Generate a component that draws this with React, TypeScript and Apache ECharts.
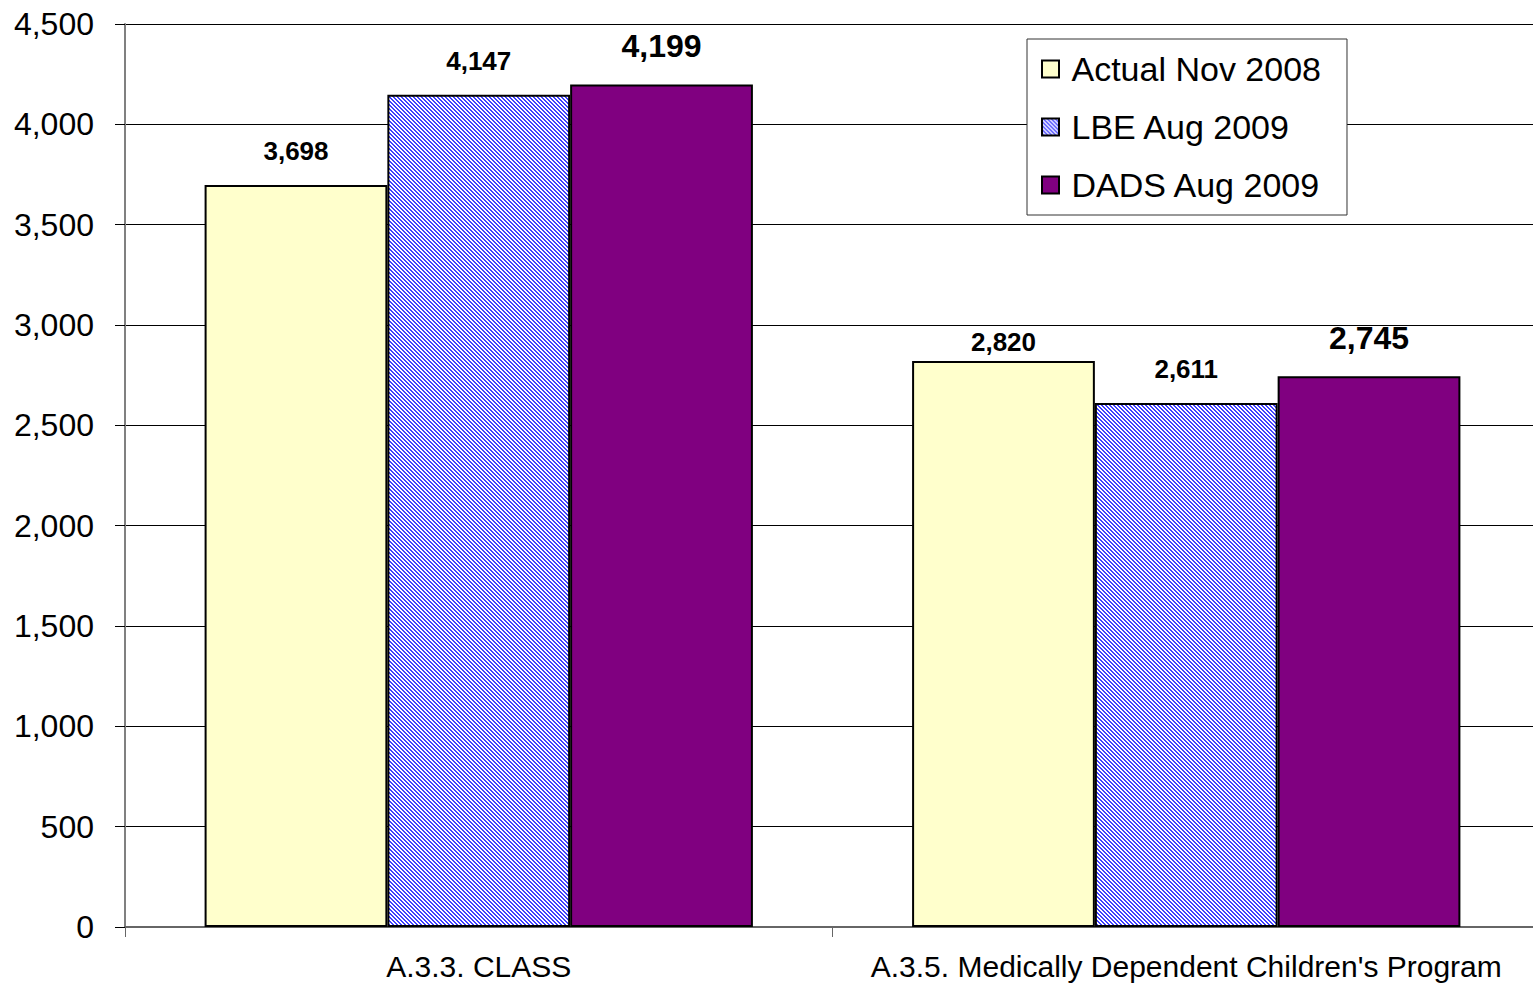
import React, { useEffect, useRef } from "react";
import * as echarts from "echarts";

const categories = ["A.3.3. CLASS", "A.3.5. Medically Dependent Children's Program"];
const seriesNames = ["Actual Nov 2008", "LBE Aug 2009", "DADS Aug 2009"];
const actualNov2008 = [3698, 2820];
const lbeAug2009 = [4147, 2611];
const dadsAug2009 = [4199, 2745];

function makeHatch(): HTMLCanvasElement {
  const c = document.createElement("canvas");
  c.width = 4;
  c.height = 4;
  const ctx = c.getContext("2d")!;
  ctx.fillStyle = "#ffffff";
  ctx.fillRect(0, 0, 4, 4);
  ctx.fillStyle = "#4040ff";
  for (let y = 0; y < 4; y++) {
    for (let x = 0; x < 4; x++) {
      const d = ((x - y) % 4 + 4) % 4;
      if (d === 0 || d === 1) ctx.fillRect(x, y, 1, 1);
    }
  }
  return c;
}

export default function App() {
  const ref = useRef<HTMLDivElement>(null);
  useEffect(() => {
    if (!ref.current) return;
    const chart = echarts.init(ref.current, undefined, { renderer: "svg" });
    const hatch = { image: makeHatch(), repeat: "repeat" } as any;
    const font = "'Liberation Sans', Arial, sans-serif";
    const fmt = (p: any) => Number(p.value).toLocaleString("en-US");
    const smallLabel = {
      show: true,
      position: "top",
      distance: 21,
      fontFamily: font,
      fontWeight: "bold",
      fontSize: 26,
      color: "#000",
      formatter: fmt,
    };
    const bigLabel = { ...smallLabel, fontSize: 32, distance: 22 };
    const square = "path://M0,0H10V10H0Z";
    chart.setOption({
      animation: false,
      backgroundColor: "#fff",
      grid: { left: 125, top: 24, width: 1415, bottom: 60, outerBoundsMode: "none" } as any,
      legend: {
        orient: "vertical",
        left: 1027,
        top: 39,
        padding: [12, 26, 12, 14],
        itemGap: 22,
        itemWidth: 32,
        itemHeight: 17,
        backgroundColor: "#fff",
        borderColor: "#333",
        borderWidth: 1,
        icon: square,
        textStyle: { fontFamily: font, fontSize: 34, color: "#000", lineHeight: 36 },
        data: seriesNames,
      },
      xAxis: {
        type: "category",
        data: categories,
        axisLine: { lineStyle: { color: "#666", width: 2 } },
        axisTick: { show: true, interval: 0, length: 10, lineStyle: { color: "#666" } },
        axisLabel: { interval: 0, fontFamily: font, fontSize: 30, color: "#000", margin: 24 },
      },
      yAxis: {
        type: "value",
        min: 0,
        max: 4500,
        interval: 500,
        axisLine: { show: true, lineStyle: { color: "#808080", width: 2 } },
        axisTick: { show: true, length: 10, lineStyle: { color: "#000" } },
        axisLabel: {
          fontFamily: font,
          fontSize: 32,
          color: "#000",
          margin: 31,
          formatter: (v: number) => v.toLocaleString("en-US"),
        },
        splitLine: { lineStyle: { color: "#000", width: 1 } },
      },
      series: [
        {
          name: seriesNames[0],
          type: "bar",
          data: actualNov2008.map((v, i) => (i === 1 ? { value: v, label: { distance: 6 } } : v)),
          barGap: "0%",
          barCategoryGap: "22.5%",
          itemStyle: { color: "#ffffcc", borderColor: "#000", borderWidth: 2 },
          label: smallLabel,
        },
        {
          name: seriesNames[1],
          type: "bar",
          data: lbeAug2009,
          barGap: "0%",
          barCategoryGap: "22.5%",
          itemStyle: { color: hatch, borderColor: "#000", borderWidth: 2 },
          label: smallLabel,
        },
        {
          name: seriesNames[2],
          type: "bar",
          data: dadsAug2009,
          barGap: "0%",
          barCategoryGap: "22.5%",
          itemStyle: { color: "#800080", borderColor: "#000", borderWidth: 2 },
          label: bigLabel,
        },
      ],
    });
    return () => chart.dispose();
  }, []);
  return <div ref={ref} style={{ width: 1533, height: 987, position: "absolute", left: 0, top: 0 }} />;
}
